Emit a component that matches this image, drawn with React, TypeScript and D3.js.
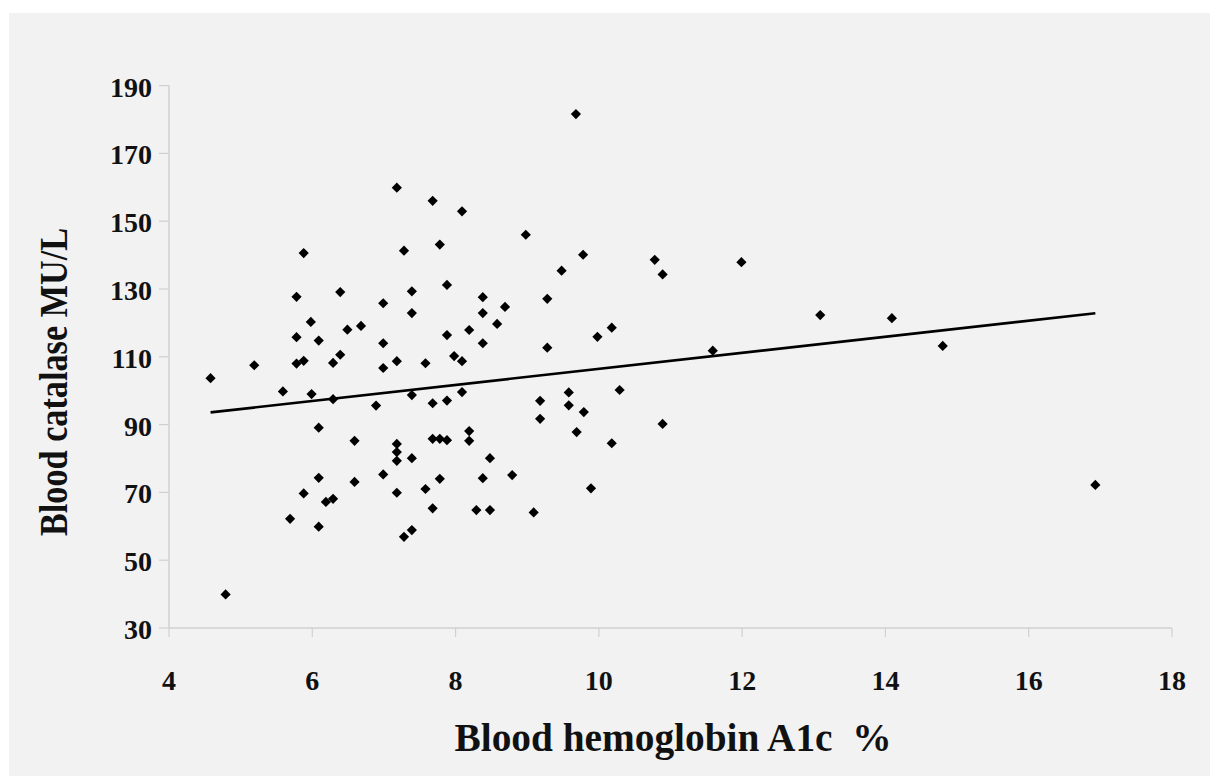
import React from "react";
import * as d3 from "d3";

const hba1c: number[] = [
  7.18, 7.68, 8.09, 5.88, 7.28, 7.78, 7.88, 5.78, 6.39, 7.39,
  6.99, 8.38, 8.69, 7.39, 8.38, 5.98, 6.68, 6.49, 8.19, 8.58,
  5.78, 6.09, 7.88, 6.99, 8.38, 5.19, 5.78, 5.88, 6.29, 6.39,
  6.99, 7.18, 7.58, 7.98, 8.09, 4.58, 5.59, 5.99, 6.29, 6.89,
  7.39, 7.68, 7.88, 8.09, 6.09, 6.59, 7.18, 7.18, 7.18, 7.39,
  7.68, 7.78, 7.88, 8.19, 8.19, 8.48, 6.09, 6.59, 6.99, 7.78,
  8.38, 5.88, 6.19, 6.29, 7.18, 7.58, 5.69, 6.09, 7.68, 8.29,
  8.48, 7.28, 7.39, 4.79, 8.79, 9.68, 8.98, 9.78, 9.48, 10.78,
  10.89, 11.99, 9.28, 9.28, 9.98, 10.18, 11.59, 13.09, 9.58, 9.18,
  9.58, 9.79, 9.18, 9.69, 10.29, 10.89, 10.18, 9.89, 9.09, 14.09,
  14.8, 16.93,
];

const catalase: number[] = [
  159.9, 156.0, 152.9, 140.6, 141.3, 143.1, 131.2, 127.7, 129.1, 129.3,
  125.8, 127.6, 124.7, 122.9, 122.9, 120.3, 119.1, 118.0, 117.9, 119.7,
  115.8, 114.8, 116.4, 114.0, 114.0, 107.5, 108.0, 108.8, 108.2, 110.6,
  106.7, 108.7, 108.1, 110.2, 108.7, 103.7, 99.8, 99.0, 97.5, 95.6,
  98.7, 96.3, 97.1, 99.6, 89.1, 85.2, 84.3, 81.9, 79.3, 80.1,
  85.8, 85.8, 85.4, 88.1, 85.2, 80.1, 74.3, 73.1, 75.3, 74.0,
  74.2, 69.7, 67.2, 68.1, 69.9, 71.0, 62.2, 59.9, 65.3, 64.8,
  64.8, 56.9, 58.9, 39.9, 75.1, 181.6, 146.0, 140.1, 135.4, 138.6,
  134.3, 137.9, 127.1, 112.7, 115.9, 118.6, 111.8, 122.3, 99.5, 97.0,
  95.7, 93.7, 91.7, 87.8, 100.2, 90.2, 84.5, 71.2, 64.1, 121.4,
  113.2, 72.2,
];

const xTicks: number[] = [4, 6, 8, 10, 12, 14, 16, 18];
const yTicks: number[] = [30, 50, 70, 90, 110, 130, 150, 170, 190];

// trend line
const trendIntercept = 82.74;
const trendSlope = 2.37;

const xTitle = "Blood hemoglobin A1c  %";
const yTitle = "Blood catalase MU/L";

export default function App() {
  const W = 1215;
  const H = 776;
  const x = d3.scaleLinear().domain([4, 18]).range([169, 1172]);
  const y = d3.scaleLinear().domain([30, 190]).range([628, 85.6]);

  const pts = hba1c.map((v, i) => [v, catalase[i]] as [number, number]);
  const xExt = d3.extent(hba1c) as [number, number];
  const trend = [xExt[0], xExt[1]].map((v) => [v, trendIntercept + trendSlope * v] as [number, number]);
  const line = d3
    .line<[number, number]>()
    .x((d) => x(d[0]))
    .y((d) => y(d[1]));

  const marker = d3.symbol().type(d3.symbolSquare).size(52)() as string;
  const font = "'Liberation Serif', 'Times New Roman', serif";
  const axisColor = "#d0d0d0";

  return (
    <svg
      width={W}
      height={H}
      style={{ position: "absolute", left: 0, top: 0, background: "#ffffff" }}
    >
      <rect x={9} y={13} width={1201} height={763} fill="#f2f2f2" />
      {/* axes */}
      <line x1={x(4)} x2={x(4)} y1={y(190)} y2={y(30)} stroke={axisColor} strokeWidth={1.5} />
      <line x1={x(4)} x2={x(18)} y1={y(30)} y2={y(30)} stroke={axisColor} strokeWidth={1.5} />
      {yTicks.map((t) => (
        <g key={"y" + t}>
          <line x1={x(4) - 10} x2={x(4)} y1={y(t)} y2={y(t)} stroke={axisColor} strokeWidth={1.2} />
          <text
            x={152}
            y={y(t) + 11}
            textAnchor="end"
            fontFamily={font}
            fontWeight="bold"
            fontSize={28}
            fill="#111"
          >
            {t}
          </text>
        </g>
      ))}
      {xTicks.map((t) => (
        <g key={"x" + t}>
          <line x1={x(t)} x2={x(t)} y1={y(30)} y2={y(30) + 9} stroke={axisColor} strokeWidth={1.2} />
          <text
            x={x(t)}
            y={690}
            textAnchor="middle"
            fontFamily={font}
            fontWeight="bold"
            fontSize={28}
            fill="#111"
          >
            {t}
          </text>
        </g>
      ))}
      {/* titles */}
      <text
        x={673}
        y={751}
        textAnchor="middle"
        fontFamily={font}
        fontWeight="bold"
        fontSize={40}
        fill="#111"
        textLength={437}
        lengthAdjust="spacingAndGlyphs"
        style={{ whiteSpace: "pre" }}
      >
        {xTitle}
      </text>
      <text
        transform="translate(67,382) rotate(-90)"
        textAnchor="middle"
        fontFamily={font}
        fontWeight="bold"
        fontSize={40}
        fill="#111"
        textLength={308}
        lengthAdjust="spacingAndGlyphs"
      >
        {yTitle}
      </text>
      {/* trend line */}
      <path d={line(trend) || ""} fill="none" stroke="#000" strokeWidth={2.6} />
      {/* points */}
      {pts.map((p, i) => (
        <path
          key={i}
          d={marker}
          transform={`translate(${x(p[0])},${y(p[1])}) rotate(45)`}
          fill="#000"
        />
      ))}
    </svg>
  );
}
